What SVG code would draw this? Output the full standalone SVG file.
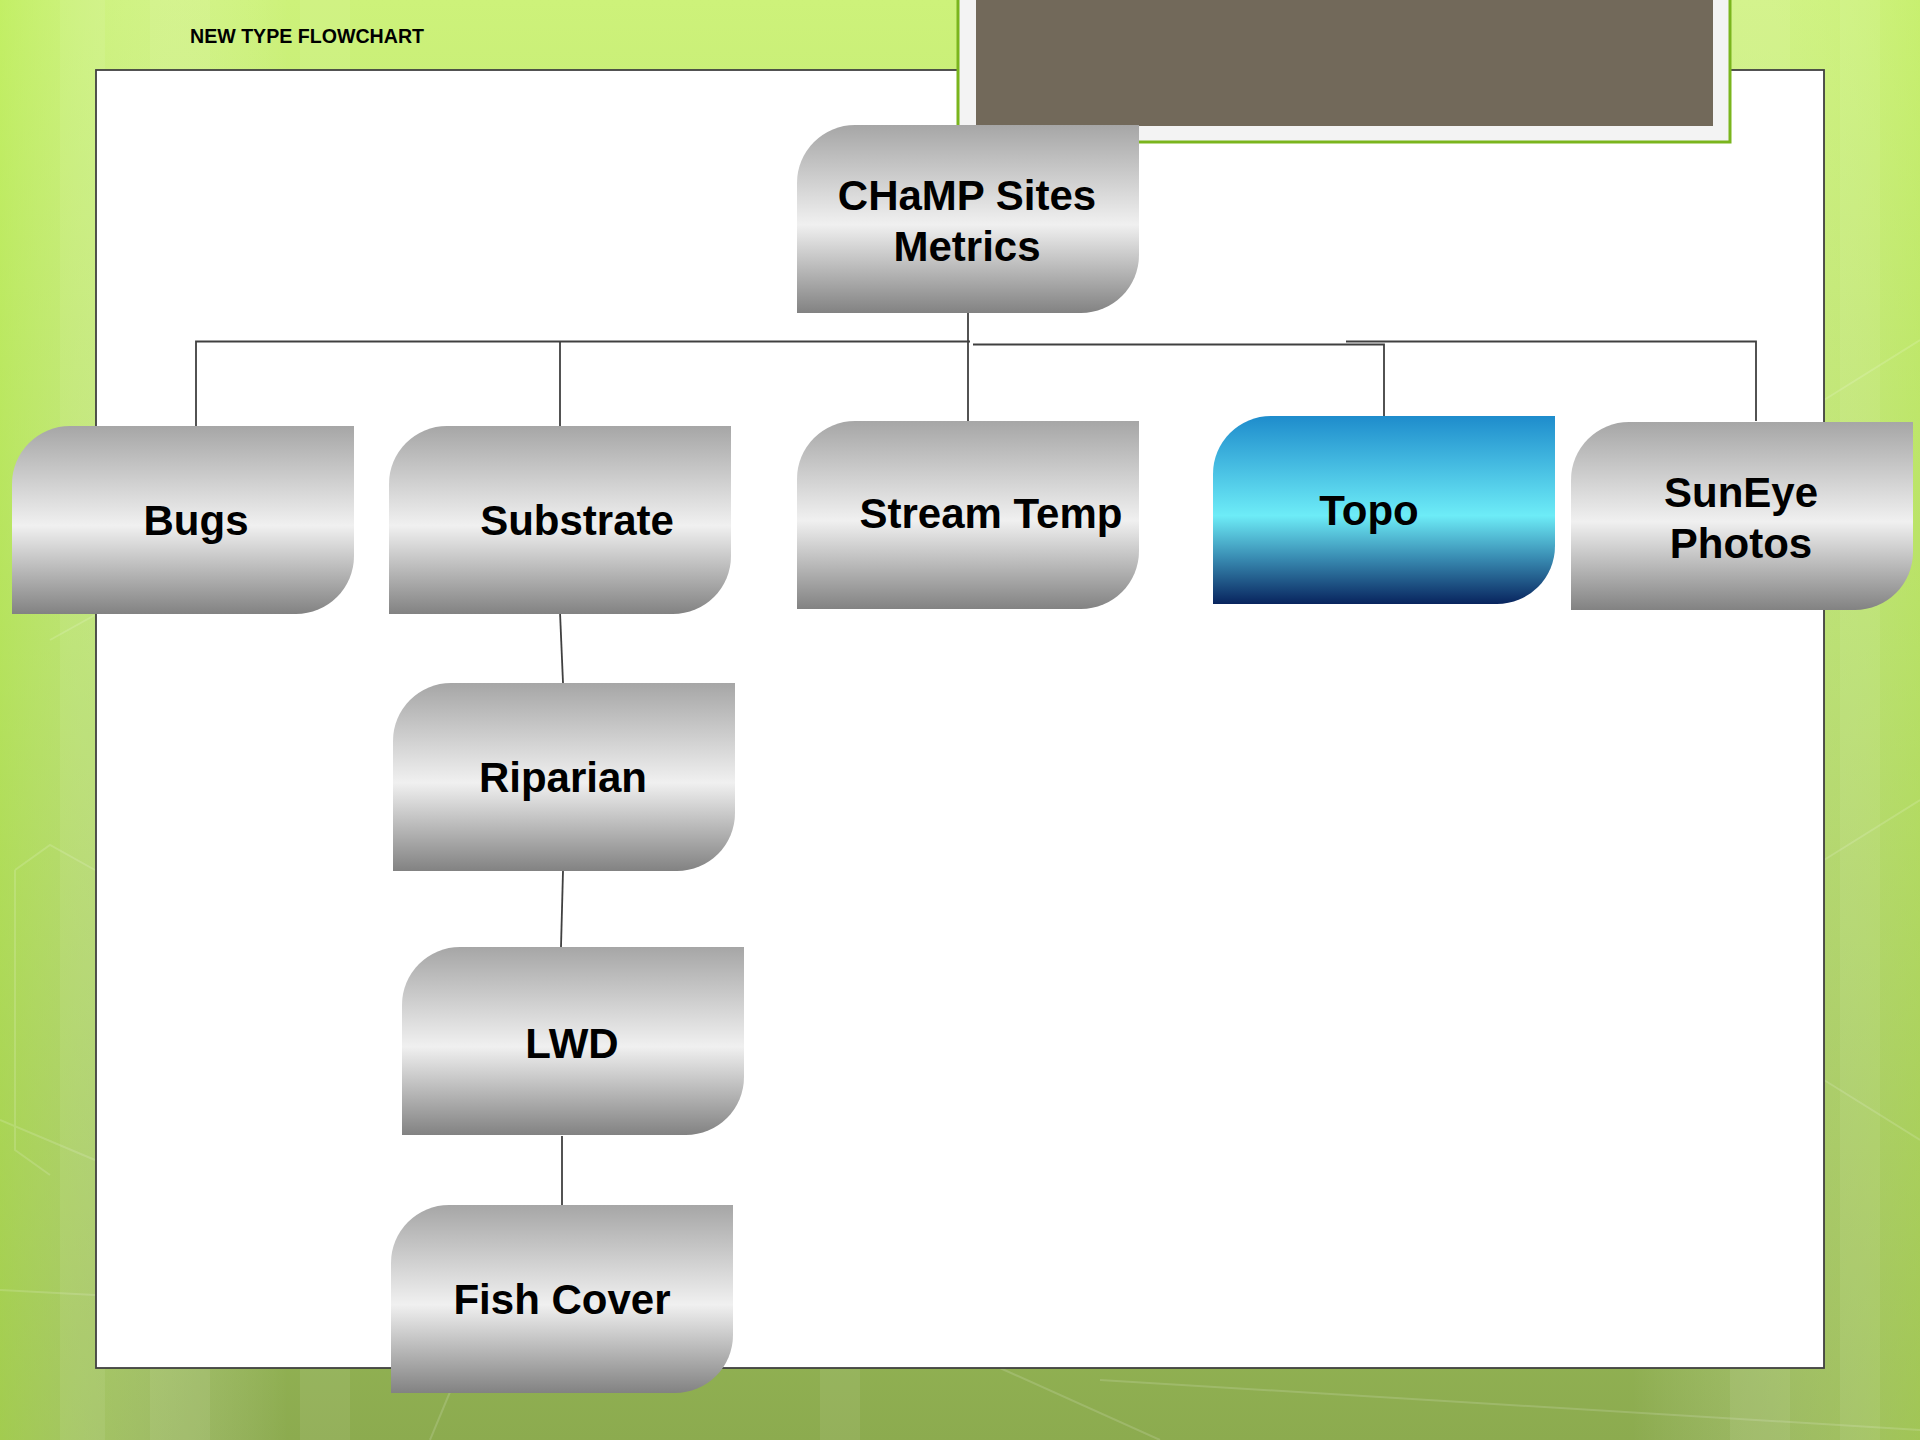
<svg xmlns="http://www.w3.org/2000/svg" xmlns:xlink="http://www.w3.org/1999/xlink" width="1920" height="1440" viewBox="0 0 1920 1440">
<defs>
<linearGradient id="bg" x1="0" y1="0" x2="0" y2="1">
<stop offset="0" stop-color="#cdf27a"/>
<stop offset="0.45" stop-color="#b2d96a"/>
<stop offset="1" stop-color="#8cab4f"/>
</linearGradient>
<linearGradient id="bgh" x1="0" y1="0" x2="1" y2="0">
<stop offset="0" stop-color="#b8ec50" stop-opacity="0.5"/>
<stop offset="0.15" stop-color="#ffffff" stop-opacity="0"/>
<stop offset="0.85" stop-color="#ffffff" stop-opacity="0"/>
<stop offset="1" stop-color="#c0ec60" stop-opacity="0.4"/>
</linearGradient>
<linearGradient id="gray" x1="0" y1="0" x2="0" y2="1">
<stop offset="0" stop-color="#a6a6a6"/>
<stop offset="0.53" stop-color="#f0f0f0"/>
<stop offset="1" stop-color="#828282"/>
</linearGradient>
<linearGradient id="blue" x1="0" y1="0" x2="0" y2="1">
<stop offset="0" stop-color="#1e8ccc"/>
<stop offset="0.53" stop-color="#6decf7"/>
<stop offset="0.75" stop-color="#3a8eb4"/>
<stop offset="1" stop-color="#08245e"/>
</linearGradient>
<path id="shape" d="M58,0 H342 V130 A58,58 0 0 1 284,188 H0 V58 A58,58 0 0 1 58,0 Z"/>
<style>
.gray{fill:url(#gray);}
.blue{fill:url(#blue);}
.lbl{font-family:"Liberation Sans",Arial,sans-serif;font-weight:bold;font-size:42px;fill:#000;text-anchor:middle;}
.title{font-family:"Liberation Sans",Arial,sans-serif;font-weight:bold;font-size:20px;fill:#000;}
.conn{stroke:#404040;stroke-width:1.8;fill:none;}
.stripe{fill:#ffffff;opacity:0.07;}
.hex{fill:none;stroke:#ffffff;stroke-opacity:0.15;stroke-width:2;}
</style>
</defs>

<!-- background -->
<rect x="0" y="0" width="1920" height="1440" fill="url(#bg)"/>
<rect x="0" y="0" width="1920" height="1440" fill="url(#bgh)"/>
<rect class="stripe" x="60" y="0" width="45" height="1440"/>
<rect class="stripe" x="150" y="0" width="60" height="1440"/>
<rect class="stripe" x="300" y="0" width="50" height="1440"/>
<rect class="stripe" x="820" y="1368" width="40" height="72"/>
<rect class="stripe" x="1730" y="0" width="60" height="1440"/>
<rect class="stripe" x="1840" y="0" width="40" height="1440"/>
<path class="hex" d="M50,640 L95,615 M15,870 L50,845 L95,870 M15,870 V1150 L50,1175 M1824,400 L1920,340 M1824,860 L1920,800 M1824,1080 L1920,1140 M0,1120 L95,1160 M0,1290 L95,1295 M1000,1368 L1160,1440 M1100,1380 L1920,1430 M460,1368 L430,1440"/>

<!-- white panel -->
<rect x="96" y="70" width="1728" height="1298" fill="#ffffff" stroke="#404040" stroke-width="1.8"/>

<!-- title -->
<text class="title" x="190" y="43" textLength="234" lengthAdjust="spacingAndGlyphs">NEW TYPE FLOWCHART</text>

<!-- photo frame -->
<g id="photo">
<rect x="958" y="-5" width="772" height="147" fill="#f3f3f3" stroke="#7ab51d" stroke-width="3"/>
<rect x="976" y="0" width="737" height="126" fill="#72695a"/>
</g>

<!-- connectors -->
<g id="connectors">
<line class="conn" x1="968" y1="313" x2="968" y2="421"/>
<polyline class="conn" points="196,426 196,341.5 970,341.5"/>
<line class="conn" x1="560" y1="341.5" x2="560" y2="426"/>
<polyline class="conn" points="973,344.5 1384,344.5 1384,423"/>
<polyline class="conn" points="1346,341.5 1756,341.5 1756,421"/>
<line class="conn" x1="560" y1="612" x2="563" y2="683"/>
<line class="conn" x1="563" y1="871" x2="561" y2="947"/>
<line class="conn" x1="562" y1="1136" x2="562" y2="1205"/>
</g>

<!-- nodes -->
<g id="node-root">
<use xlink:href="#shape" href="#shape" class="gray" x="797" y="125"/>
<text class="lbl" x="967" y="210">CHaMP Sites</text>
<text class="lbl" x="967" y="261">Metrics</text>
</g>
<g id="node-bugs">
<use xlink:href="#shape" href="#shape" class="gray" x="12" y="426"/>
<text class="lbl" x="196" y="535">Bugs</text>
</g>
<g id="node-substrate">
<use xlink:href="#shape" href="#shape" class="gray" x="389" y="426"/>
<text class="lbl" x="577" y="535">Substrate</text>
</g>
<g id="node-streamtemp">
<use xlink:href="#shape" href="#shape" class="gray" x="797" y="421"/>
<text class="lbl" x="991" y="528">Stream Temp</text>
</g>
<g id="node-topo">
<use xlink:href="#shape" href="#shape" class="blue" x="1213" y="416"/>
<text class="lbl" x="1369" y="525">Topo</text>
</g>
<g id="node-suneye">
<use xlink:href="#shape" href="#shape" class="gray" x="1571" y="422"/>
<text class="lbl" x="1741" y="507">SunEye</text>
<text class="lbl" x="1741" y="558">Photos</text>
</g>
<g id="node-riparian">
<use xlink:href="#shape" href="#shape" class="gray" x="393" y="683"/>
<text class="lbl" x="563" y="792">Riparian</text>
</g>
<g id="node-lwd">
<use xlink:href="#shape" href="#shape" class="gray" x="402" y="947"/>
<text class="lbl" x="572" y="1058">LWD</text>
</g>
<g id="node-fishcover">
<use xlink:href="#shape" href="#shape" class="gray" x="391" y="1205"/>
<text class="lbl" x="562" y="1314">Fish Cover</text>
</g>
</svg>
